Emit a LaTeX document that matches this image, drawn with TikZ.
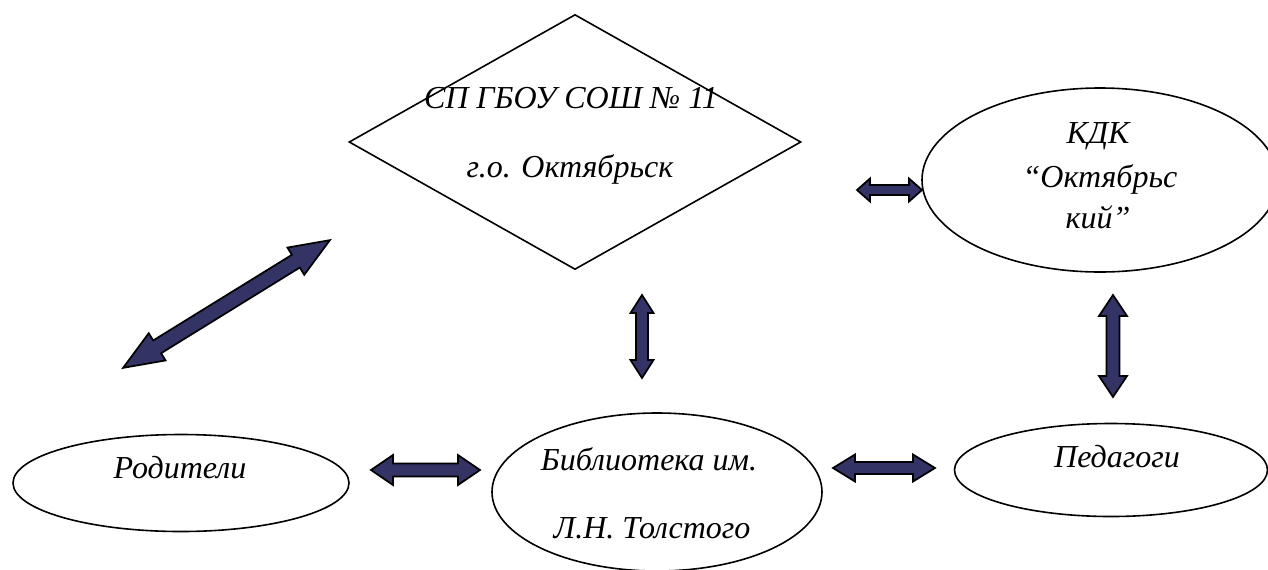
\documentclass[tikz,border=0pt]{standalone}
\usepackage{fontspec}
\setmainfont{Liberation Serif}
\usetikzlibrary{shapes.geometric}
\definecolor{arrowblue}{RGB}{51,51,102}
% block arrow with two heads: length, half shaft, half head, head length
\tikzset{
  pics/dblarrow/.style n args={4}{code={%
    \draw[arrowbody] (-#1/2,0) -- (-#1/2+#4,#3) -- (-#1/2+#4,#2) -- (#1/2-#4,#2) -- (#1/2-#4,#3) -- (#1/2,0) -- (#1/2-#4,-#3) -- (#1/2-#4,-#2) -- (-#1/2+#4,-#2) -- (-#1/2+#4,-#3) -- cycle ;
  }},
}
\begin{document}
\begin{tikzpicture}[x=0.75pt,y=0.75pt,yscale=-1,xscale=1,
  shapeline/.style={draw=black,line width=1.2pt,inner sep=0pt},
  oval/.style={shapeline,ellipse},
  rhomb/.style={shapeline,diamond},
  arrowbody/.style={draw=black,line width=1.3pt,fill=arrowblue,line join=miter},
  caption/.style={font=\fontsize{24}{28}\selectfont\itshape,inner sep=0pt,anchor=base}]
\useasboundingbox (0,0) rectangle (1268,569);

%Shape: Diamond
\node[rhomb,minimum width=339pt,minimum height=191.25pt] (school) at (575,142) {};
%Shape: Ellipse
\node[oval,minimum width=267pt,minimum height=138pt] (kdk) at (1100,180) {};
%Shape: Ellipse
\node[oval,minimum width=252pt,minimum height=72.75pt] (parents) at (181,483) {};
%Shape: Ellipse
\node[oval,minimum width=247.5pt,minimum height=118.5pt] (library) at (657,492) {};
%Shape: Ellipse
\node[oval,minimum width=234.75pt,minimum height=69.75pt] (teachers) at (1111,470) {};

%Straight Lines
\pic[rotate=31.7] (linkdiag) at (226.5,304) {dblarrow={243}{7.5}{16}{40}};
\pic (linkkdk) at (889.5,190) {dblarrow={65}{5}{11.5}{13}};
\pic[rotate=90] (linkkdkdown) at (1113,346) {dblarrow={102}{6.5}{14}{21}};
\pic[rotate=90] (linkschool) at (642,336.5) {dblarrow={83}{6}{11.5}{18}};
\pic (linkleft) at (425.5,470) {dblarrow={109}{6.5}{15}{22}};
\pic (linkright) at (884,468) {dblarrow={102}{6}{13.5}{22}};

% Text Node
\node[caption] (schoolA) at (571,108) {СП ГБОУ СОШ № 11};
% Text Node
\node[caption] (schoolB) at (570,177) {г.о. Октябрьск};
% Text Node
\node[caption] (kdkA) at (1098,143) {КДК};
% Text Node
\node[caption] (kdkB) at (1100,187) {“Октябрьс};
% Text Node
\node[caption] (kdkC) at (1098,228) {кий”};
% Text Node
\node[caption] (parentsA) at (180,478) {Родители};
% Text Node
\node[caption] (libraryA) at (649,470) {Библиотека им.};
% Text Node
\node[caption] (libraryB) at (652,538) {Л.Н. Толстого};
% Text Node
\node[caption] (teachersA) at (1117,467) {Педагоги};

\end{tikzpicture}
\end{document}
